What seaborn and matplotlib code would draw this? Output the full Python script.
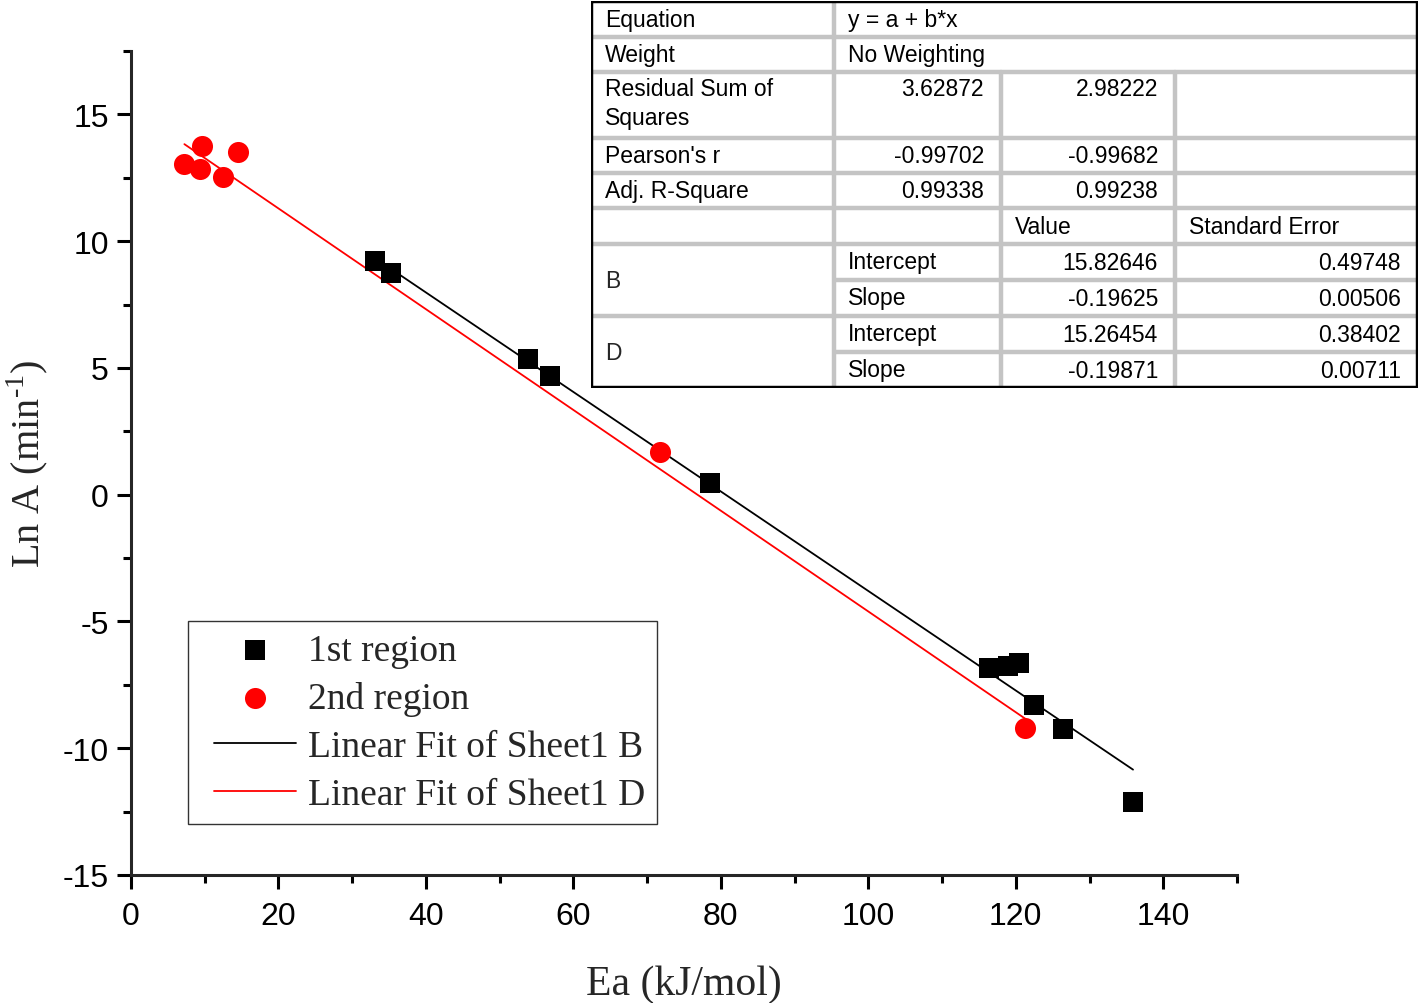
import numpy as np
import pandas as pd
import seaborn as sns
import matplotlib.pyplot as plt
from matplotlib.ticker import MultipleLocator
from matplotlib.lines import Line2D
from matplotlib.collections import PathCollection
from matplotlib.legend_handler import HandlerLine2D, HandlerPathCollection

# data
ea_1st = [33.1, 35.2, 53.9, 56.8, 78.5, 116.3, 119.0, 120.4, 122.5, 126.4, 135.9]
lna_1st = [9.20, 8.76, 5.37, 4.70, 0.47, -6.83, -6.74, -6.64, -8.30, -9.24, -12.13]
ea_2nd = [7.24, 9.68, 9.37, 12.45, 14.57, 71.8, 121.3]
lna_2nd = [13.05, 13.76, 12.84, 12.54, 13.50, 1.70, -9.21]

# fit results table
fit_names = ['B', 'D']
fit_intercept = [15.82646, 15.26454]
fit_slope = [-0.19625, -0.19871]
fit_intercept_se = [0.49748, 0.38402]
fit_slope_se = [0.00506, 0.00711]
rss = ['3.62872', '2.98222']
pearson_r = ['-0.99702', '-0.99682']
adj_r2 = ['0.99338', '0.99238']

sns.set_style('ticks')
plt.rcParams['font.family'] = ['Liberation Sans', 'DejaVu Sans']
plt.rcParams['axes.unicode_minus'] = False
plt.rcParams['mathtext.fontset'] = 'custom'
plt.rcParams['mathtext.rm'] = 'Liberation Serif'

serif = ['Liberation Serif', 'DejaVu Serif']

fig = plt.figure(figsize=(14.2, 10.04), dpi=100)
ax = fig.add_axes([131 / 1420, 1 - 876 / 1004, 1106 / 1420, 824 / 1004])

df1 = pd.DataFrame({'Ea': ea_1st, 'lnA': lna_1st})
df2 = pd.DataFrame({'Ea': ea_2nd, 'lnA': lna_2nd})

sns.scatterplot(data=df1, x='Ea', y='lnA', marker='s', color='black', s=190,
                linewidth=0, ax=ax, label='1st region', zorder=3)
sns.scatterplot(data=df2, x='Ea', y='lnA', marker='o', color='#ff0000', s=230,
                linewidth=0, ax=ax, label='2nd region', zorder=3)

# fit lines over each data range
for i, (xs, col) in enumerate([(ea_1st, 'black'), (ea_2nd, '#ff0000')]):
    xx = np.array([min(xs), max(xs)])
    yy = fit_intercept[i] + fit_slope[i] * xx
    sns.lineplot(x=xx, y=yy, color=col, linewidth=1.3, ax=ax,
                 label=f'Linear Fit of Sheet1 {fit_names[i]}', zorder=2)

ax.set_xlim(0, 150)
ax.set_ylim(-15, 17.5)
ax.xaxis.set_major_locator(MultipleLocator(20))
ax.xaxis.set_minor_locator(MultipleLocator(10))
ax.yaxis.set_major_locator(MultipleLocator(5))
ax.yaxis.set_minor_locator(MultipleLocator(2.5))
for s in ['top', 'right']:
    ax.spines[s].set_visible(False)
for s in ['left', 'bottom']:
    ax.spines[s].set_linewidth(2.2)
ax.tick_params(which='major', direction='out', length=10, width=2.2,
               labelsize=23, pad=6, color='black', labelcolor='black')
ax.tick_params(which='minor', direction='out', length=5.5, width=2.2, color='black')
ax.tick_params(axis='x', which='major', pad=9)

ax.set_xlabel('Ea (kJ/mol)', family=serif, fontsize=30, labelpad=24)
ax.set_ylabel('Ln A (min$^{\\text{-1}}$)', family=serif, fontsize=29, labelpad=9)

hpad = 0.37
leg = ax.legend(loc='upper left', bbox_to_anchor=(0.0515, 0.308),
                bbox_transform=ax.transAxes, borderaxespad=0,
                prop={'family': serif, 'size': 27}, frameon=True, fancybox=False,
                edgecolor='black', handlelength=2.2 + hpad, handletextpad=0.3,
                labelspacing=0.36, borderpad=0.32, markerscale=1.0,
                handler_map={Line2D: HandlerLine2D(xpad=hpad),
                             PathCollection: HandlerPathCollection(xpad=hpad)})
leg.get_frame().set_linewidth(1.0)

# results table in the upper right (pixel coordinates)
ta = fig.add_axes([591 / 1420, 1 - 389 / 1004, 827 / 1420, 387 / 1004])
ta.set_xlim(591, 1418)
ta.set_ylim(389, 2)
ta.axis('off')

cols = [591, 834, 1001, 1175, 1418]
rows = [2, 38, 73, 139, 174, 209, 245, 281, 317, 353, 389]
grey = '#c4c4c4'
lw_g = 3.2

for r in rows[1:-1]:
    x0 = cols[1] if r in (281, 353) else cols[0]
    ta.plot([x0, cols[-1]], [r, r], color=grey, lw=lw_g, solid_capstyle='butt')
ta.plot([cols[1], cols[1]], [rows[0], rows[-1]], color=grey, lw=lw_g)
for c in cols[2:4]:
    ta.plot([c, c], [rows[2], rows[-1]], color=grey, lw=lw_g)
ta.plot([cols[0], cols[-1], cols[-1], cols[0], cols[0]],
        [rows[0], rows[0], rows[-1], rows[-1], rows[0]],
        color='black', lw=3.2, solid_joinstyle='miter')

fs = 16.5


def cell(r, c, s, ha='left', y=None, va='center'):
    if y is None:
        y = (rows[r] + rows[r + 1]) / 2
    x = cols[c] + 14 if ha == 'left' else cols[c + 1] - 17
    ta.text(x, y, s, ha=ha, va=va, fontsize=fs, color='black')


cell(0, 0, 'Equation')
cell(0, 1, 'y = a + b*x')
cell(1, 0, 'Weight')
cell(1, 1, 'No Weighting')
cell(2, 0, 'Residual Sum of', y=rows[2] + 17)
cell(2, 0, 'Squares', y=rows[2] + 45)
for j in range(2):
    cell(2, j + 1, rss[j], ha='right', y=rows[2] + 17)
    cell(3, j + 1, pearson_r[j], ha='right')
    cell(4, j + 1, adj_r2[j], ha='right')
cell(3, 0, "Pearson's r")
cell(4, 0, 'Adj. R-Square')
cell(5, 2, 'Value')
cell(5, 3, 'Standard Error')
for i, name in enumerate(fit_names):
    r0 = 6 + 2 * i
    ta.text(cols[0] + 14, rows[r0 + 1], name, ha='left', va='center', fontsize=fs)
    cell(r0, 1, 'Intercept')
    cell(r0, 2, f'{fit_intercept[i]:.5f}', ha='right')
    cell(r0, 3, f'{fit_intercept_se[i]:.5f}', ha='right')
    cell(r0 + 1, 1, 'Slope')
    cell(r0 + 1, 2, f'{fit_slope[i]:.5f}', ha='right')
    cell(r0 + 1, 3, f'{fit_slope_se[i]:.5f}', ha='right')

fig.savefig('out.png', dpi=100)
